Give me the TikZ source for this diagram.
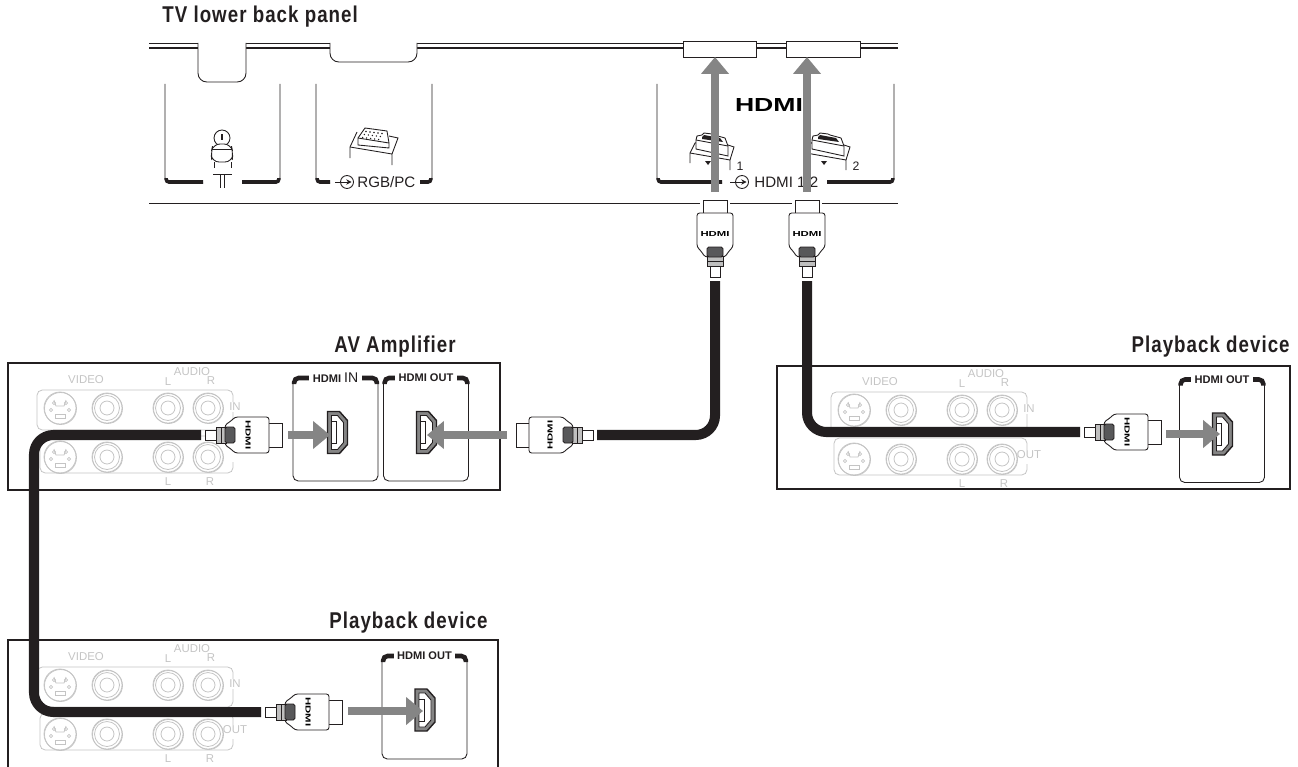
\documentclass[tikz,border=0pt]{standalone}
\usepackage{fontspec}
\setmainfont{Liberation Sans}
\newfontfamily\titlefont[LetterSpace=4.5,FakeStretch=0.82]{Liberation Sans}
\usetikzlibrary{arrows.meta,calc,positioning}
\definecolor{inkblack}{HTML}{231F20}
\definecolor{feedgray}{HTML}{858585}
\definecolor{jackgray}{HTML}{C4C4C4}
\definecolor{gripgray}{HTML}{58585A}
\newcommand{\hdmilogo}[2]{\resizebox{#1}{#2}{\bfseries HDMI}}
\tikzset{
  panelline/.style={draw=inkblack,line width=0.8pt},
  thinline/.style={draw=inkblack,line width=0.5pt},
  jackline/.style={draw=jackgray,line width=0.45pt},
  jacktext/.style={text=jackgray,font=\fontsize{6.5}{7}\selectfont,inner sep=0pt},
  title/.style={font=\titlefont\bfseries\fontsize{13}{15}\selectfont,text=inkblack,inner sep=0pt},
  baytext/.style={font=\fontsize{8.6}{10}\selectfont,text=inkblack,inner sep=0pt},
  cable/.style={draw=inkblack,line width=5.7pt,rounded corners=11pt},
  feed/.style={draw=feedgray,line width=4.5pt,-{Triangle[length=9.6pt,width=15.3pt]}},
  pics/hdmiplug/.style={code={
    \fill[white] (-14,-15) rectangle (1,15);
    \draw[thinline,fill=white] (-14,-12) rectangle (0,12);
    \draw[thinline,fill=white,rounded corners=1.5pt] (-13,-18)--(-47,-18)--(-51,-14)--(-57,-10)--(-57,10)--(-51,14)--(-47,18)--(-13,18)--cycle;
    \draw[thinline,fill=black!25] (-56,-8) rectangle (-66,8);
    \draw[thinline,fill=white] (-66,-5) rectangle (-77,5);
    \draw[thinline] (-61,-8)--(-61,8);
    \draw[thinline,fill=gripgray,rounded corners=1pt] (-47,-8) rectangle (-57,8);
    \node[rotate=-90,transform shape,inner sep=0pt] (-logo) at (-34,0) {\hdmilogo{0.58cm}{0.1cm}};
    \coordinate (-cable) at (-81,0);
  }},
  pics/hdmiport/.style={code={
    \draw[panelline,fill=feedgray] (-10,-21)--(2,-21)--(10,-12)--(10,12)--(2,21)--(-10,21)--cycle;
    \draw[thinline,fill=white] (-6,-17)--(0,-17)--(6,-10)--(6,10)--(0,17)--(-6,17)--cycle;
    \draw[thinline] (-6,-11)--(-1,-11)--(-1,11)--(-6,11);
  }},
  pics/hdmibox/.style={code={
    \draw[thinline,rounded corners=3pt] (0,5)--(0,105)--(85,105)--(85,5);
    \draw[draw=inkblack,line width=2.6pt,rounded corners=2.5pt] (1.2,8)--(1.2,2)--(83.8,2)--(83.8,8);
    \node[fill=white,inner xsep=2pt,inner ysep=1pt,text=inkblack,font=\bfseries\fontsize{6.3}{7}\selectfont] (-label) at (42.5,2) {#1};
  }},
  pics/hdmijack/.style={code={
    \draw[thinline] (-22,13)--(-22,3)--(-17,-7)--(-13,-8);
    \draw[thinline] (-22,3)--(18,10)--(18,20);
    \draw[thinline] (18,10)--(22,-3)--(16,-5);
    \draw[thinline,fill=white] (-16,-10)--(-15,-14)--(-10,-15)--(-8,-17)--(0,-16)--(2,-15)--(13,-12)--(16,-4)--(16,6)--(-16,-1)--cycle;
    \draw[thinline] (-16,-10)--(16,-4);
    \fill[inkblack] (-10,-13)--(-8,-15)--(8,-12)--(11,-8)--(-10,-11)--cycle;
    \fill[inkblack] (-7,11)--(-1,11)--(-4,15)--cycle;
    \node[baytext,font=\fontsize{7}{8}\selectfont] (-num) at (28,16) {#1};
  }},
  pics/insymbol/.style={code={
    \draw[thinline] (0,0) circle (6.5);
    \draw[thinline,-{Stealth[length=3pt,width=3pt]}] (-12,0)--(4.5,0);
  }},
  pics/jackpanel/.style={code={
    \draw[jackline,rounded corners=3pt] (233,402)--(233,390)--(37,390)--(37,430)--(233,430)--(233,412);
    \draw[jackline,rounded corners=3pt] (233,448)--(233,436)--(40,436)--(40,473)--(233,473)--(233,462);
    \foreach \jy in {408,457} {
      \foreach \jx in {107,168,208} {
        \draw[jackline] (\jx,\jy) circle (15);
        \draw[jackline] (\jx+0.5,\jy+0.5) circle (15);
        \draw[jackline] (\jx,\jy) circle (12.5);
        \draw[jackline] (\jx,\jy) circle (7);
      }
      \draw[jackline] (60,\jy) circle (16);
      \draw[jackline] (60+0.5,\jy+0.5) circle (16);
      \foreach \px/\py in {-6/-5,6/-5,-9/2,9/2} {
        \draw[jackline] (60+\px,\jy+\py) circle (1.6);
      }
      \draw[jackline] (55,\jy+6) rectangle (65,\jy+10);
      \draw[jackline] (54,\jy-8)--(56,\jy-2)--(64,\jy-2)--(66,\jy-8);
    }
    \node[jacktext] (-video) at (86,380) {VIDEO};
    \node[jacktext] (-audio) at (192,372) {AUDIO};
    \node[jacktext] (-la) at (168,382) {L};
    \node[jacktext] (-ra) at (211,381) {R};
    \node[jacktext] (-lb) at (168,482) {L};
    \node[jacktext] (-rb) at (210,482) {R};
    \node[jacktext] (-in) at (235,407) {IN};
    \node[jacktext] (-out) at (235,453) {#1};
  }}
}
\begin{document}
\begin{tikzpicture}[x=0.02cm,y=-0.02cm]
  \useasboundingbox (0,0) rectangle (1298,767);
  \node[title,anchor=base west] (tvtitle) at (162,23) {TV lower back panel};
  \node[title,anchor=base west] (avtitle) at (334,352) {AV Amplifier};
  \node[title,anchor=base east] (righttitle) at (1290,352) {Playback device};
  \node[title,anchor=base west] (lowertitle) at (329,628) {Playback device};

  \draw[panelline,line width=0.6pt] (149,43.5)--(898,43.5);
  \draw[panelline,line width=0.6pt] (149,48)--(898,48);
  \draw[panelline,line width=0.5pt] (149,203)--(898,203);
  \draw[thinline,fill=white,rounded corners=5pt] (198,43)--(198,82)--(246,82)--(246,43);
  \draw[thinline,fill=white,rounded corners=5pt] (330,43)--(330,62)--(417,62)--(417,43);
  \draw[thinline,fill=white] (683,41) rectangle (756,57);
  \draw[thinline,fill=white] (786,41) rectangle (860,57);
  \foreach \xa/\xb/\ga/\gb in {165/280/203/242,316/432/330/420,657/894/722/827} {
    \draw[thinline,rounded corners=3pt] (\xa,84)--(\xa,183)--(\ga,183);
    \draw[thinline,rounded corners=3pt] (\xb,84)--(\xb,183)--(\gb,183);
    \draw[draw=inkblack,line width=2pt,rounded corners=1.5pt] (\xa+1.2,178)--(\xa+1.2,182)--(\ga,182);
    \draw[draw=inkblack,line width=2pt,rounded corners=1.5pt] (\xb-1.2,178)--(\xb-1.2,182)--(\gb,182);
  }

  \draw[thinline,fill=white] (222,138) circle (8);
  \fill[inkblack] (221,134) rectangle (223,140);
  \draw[thinline,fill=white,rounded corners=4pt] (213,144)--(231,144)--(233,153)--(232,162)--(212,162)--(211,153)--cycle;
  \draw[thinline] (212,149)--(232,149);
  \draw[thinline] (214,162)--(214,168);
  \draw[thinline] (231,162)--(231,168);
  \draw[thinline] (213,174)--(232,174);
  \draw[thinline] (220.5,174)--(220.5,188);
  \draw[thinline] (224,174)--(224,188);

  \draw[thinline] (350,158)--(350,147)--(357,132);
  \draw[thinline] (350,147)--(392,154)--(392,165);
  \draw[thinline] (392,154)--(398,138)--(389,136);
  \draw[thinline,fill=white] (358,138)--(365,128)--(387,131)--(389,143)--(389,148)--(358,145)--cycle;
  \draw[thinline] (358,138)--(389,143);
  \foreach \dy in {0,1,2} {
    \foreach \dx in {0,1,2,3,4} {
      \fill[inkblack] (366+4*\dx-1.7*\dy,131.5+0.5*\dx+3*\dy) circle (0.8);
    }
  }

  \pic at (347,182) {insymbol};
  \node[baytext,anchor=west] (rgblabel) at (357,182) {RGB/PC};
  \pic at (742,182) {insymbol};
  \node[baytext,anchor=west] (hdmilabel) at (754,182) {HDMI 1 2};
  \node[inner sep=0pt] (tvlogo) at (769,105) {\hdmilogo{1.36cm}{0.26cm}};
  \pic at (712,150) {hdmijack={1}};
  \pic at (828,150) {hdmijack={2}};

  \draw[panelline] (8,363) rectangle (500,490);
  \draw[panelline] (777,366) rectangle (1290,489);
  \draw[panelline] (8,767)--(8,640)--(498,640)--(498,767);
  \pic at (0,0) {jackpanel={}};
  \pic at (794,2) {jackpanel={OUT}};
  \pic at (0,277) {jackpanel={OUT}};
  \pic at (293,376) {hdmibox={HDMI \fontsize{8}{8}\selectfont\mdseries IN}};
  \pic at (383.5,376) {hdmibox={HDMI OUT}};
  \pic at (1179.5,377.5) {hdmibox={HDMI OUT}};
  \pic at (382,654) {hdmibox={HDMI OUT}};
  \pic at (337.5,432.5) {hdmiport};
  \pic at (426.5,432.5) {hdmiport};
  \pic at (1222.5,434) {hdmiport};
  \pic at (425,710) {hdmiport};

  \pic[rotate=90] (plugA) at (715,200) {hdmiplug};
  \pic[rotate=90] (plugB) at (807,200) {hdmiplug};
  \pic[rotate=180] (plugC) at (516,435) {hdmiplug};
  \pic (plugD) at (282,435) {hdmiplug};
  \pic (plugE) at (1161,432) {hdmiplug};
  \pic (plugF) at (342,712) {hdmiplug};
  \coordinate (cableleft) at (34,570);
  \draw[cable] (plugA-cable) |- (plugC-cable);
  \draw[cable] (plugB-cable) |- (plugE-cable);
  \draw[cable] (plugD-cable) -| (cableleft) |- (plugF-cable);

  \coordinate (feedA) at (715,192);
  \coordinate (feedB) at (807,192);
  \coordinate (feedC) at (507,435);
  \coordinate (feedD) at (288,435);
  \coordinate (feedE) at (1166,434);
  \coordinate (feedF) at (348,711);
  \coordinate (tipA) at (715,57);
  \coordinate (tipB) at (807,57);
  \coordinate (tipC) at (427,435);
  \coordinate (tipD) at (330,435);
  \coordinate (tipE) at (1220,434);
  \coordinate (tipF) at (423,711);
  \foreach \fd in {A,B,C,D,E,F} {
    \draw[feed] (feed\fd)--(tip\fd);
  }
\end{tikzpicture}
\end{document}
